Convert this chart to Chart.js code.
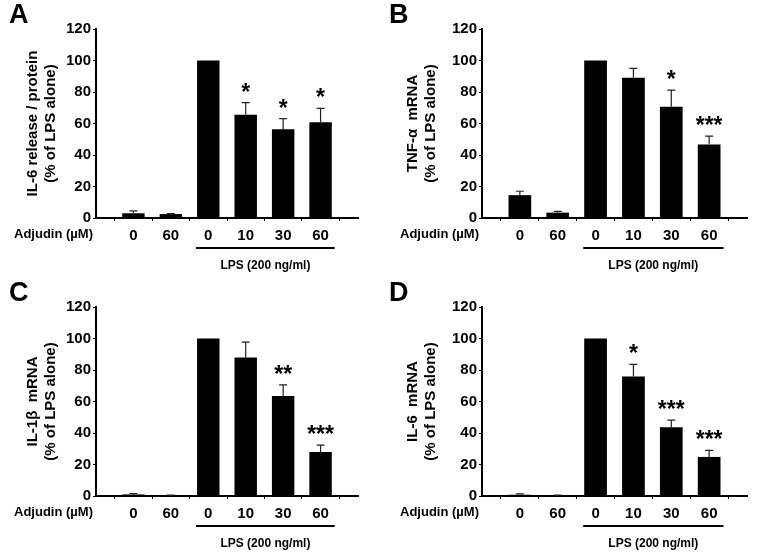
<!DOCTYPE html>
<html>
<head>
<meta charset="utf-8">
<script src="https://cdn.jsdelivr.net/npm/chart.js@4"></script>
<style>
  html, body { margin: 0; padding: 0; background: #fff; }
  #wrap { position: relative; width: 757px; height: 558px; }
  .panel { position: absolute; }
</style>
</head>
<body>
<div id="wrap">
  <div class="panel" style="left:0;top:0;width:378px;height:280px"><canvas id="chartA"></canvas></div>
  <div class="panel" style="left:380px;top:0;width:377px;height:280px"><canvas id="chartB"></canvas></div>
  <div class="panel" style="left:0;top:278px;width:378px;height:280px"><canvas id="chartC"></canvas></div>
  <div class="panel" style="left:380px;top:278px;width:377px;height:280px"><canvas id="chartD"></canvas></div>
</div>
<script>
// x categories (empty slots at both ends keep the gaps at the axis ends)
const doseLabels = ['', '0', '60', '0', '10', '30', '60', ''];
const yTicks = [0, 20, 40, 60, 80, 100, 120];

// A: IL-6 release / protein
const il6ReleaseMeans = [3, 2.5, 100, 65.6, 56.3, 60.8];
const il6ReleaseErrors = [1.5, 0.3, 0, 7.6, 6.8, 8.8];
const il6ReleaseStars = ['', '', '', '*', '*', '*'];

// B: TNF-a mRNA
const tnfMeans = [14.5, 3.4, 100, 89.1, 70.7, 46.7];
const tnfErrors = [2.5, 0.8, 0, 5.9, 10.5, 5.3];
const tnfStars = ['', '', '', '', '*', '***'];

// C: IL-1b mRNA
const il1bMeans = [1, 0.3, 100, 88, 63.5, 28];
const il1bErrors = [0.6, 0.2, 0, 9.7, 7, 4.3];
const il1bStars = ['', '', '', '', '**', '***'];

// D: IL-6 mRNA
const il6MrnaMeans = [0.8, 0.3, 100, 75.8, 43.6, 24.8];
const il6MrnaErrors = [0.5, 0.3, 0, 7.8, 4.6, 4.2];
const il6MrnaStars = ['', '', '', '*', '***', '***'];

const FONT = "'Liberation Sans', Arial, sans-serif";
Chart.defaults.font.family = FONT;
Chart.defaults.color = '#000';

// error bars, stars, panel letter and the LPS bracket
const panelDecor = {
    id: 'panelDecor',
    afterDatasetsDraw(chart, args, opts) {
        const ctx = chart.ctx;
        const meta = chart.getDatasetMeta(0);
        const yScale = chart.scales.y;
        const area = chart.chartArea;
        ctx.save();

        // error bars (upper only)
        ctx.strokeStyle = '#222';
        ctx.lineWidth = 1.2;
        opts.errors.forEach((e, i) => {
            const bar = meta.data[i + 1];
            if (!bar || !e) return;
            const v = opts.means[i];
            const yTop = yScale.getPixelForValue(v + e);
            ctx.beginPath();
            ctx.moveTo(bar.x, bar.y);
            ctx.lineTo(bar.x, yTop);
            ctx.moveTo(bar.x - 4, yTop);
            ctx.lineTo(bar.x + 4, yTop);
            ctx.stroke();
        });

        // significance stars
        ctx.fillStyle = '#000';
        ctx.font = 'bold 23px ' + FONT;
        ctx.textAlign = 'center';
        ctx.textBaseline = 'alphabetic';
        opts.stars.forEach((s, i) => {
            if (!s) return;
            const bar = meta.data[i + 1];
            const yTop = yScale.getPixelForValue(opts.means[i] + opts.errors[i]);
            ctx.fillText(s, bar.x, yTop - 3);
        });

        // panel letter
        ctx.font = 'bold 27px ' + FONT;
        ctx.textAlign = 'left';
        ctx.textBaseline = 'top';
        ctx.fillText(opts.letter, 9, 2);

        // "Adjudin (µM)" row label
        ctx.font = 'bold 13px ' + FONT;
        ctx.textAlign = 'right';
        ctx.textBaseline = 'middle';
        ctx.fillText('Adjudin (\u00b5M)', area.left - 3, area.bottom + 16);

        // LPS bracket
        const b3 = meta.data[3], b6 = meta.data[6];
        const x1 = b3.x - b3.width / 2 - 1;
        const x2 = b6.x + b6.width / 2 + 3;
        const yl = area.bottom + 30;
        ctx.lineWidth = 2;
        ctx.strokeStyle = '#000';
        ctx.beginPath();
        ctx.moveTo(x1, yl);
        ctx.lineTo(x2, yl);
        ctx.stroke();
        ctx.font = 'bold 12px ' + FONT;
        ctx.textAlign = 'center';
        ctx.fillText('LPS (200 ng/ml)', (x1 + x2) / 2, area.bottom + 48);

        ctx.restore();
    }
};

function makePanel(canvasId, letter, title, means, errors, stars, yAxisWidth, padRight) {
    const ctx = document.getElementById(canvasId).getContext('2d');
    return new Chart(ctx, {
        type: 'bar',
        data: {
            labels: doseLabels,
            datasets: [{
                data: [null, ...means, null],
                backgroundColor: '#000',
                borderWidth: 0,
                barPercentage: 0.6,
                categoryPercentage: 1
            }]
        },
        options: {
            responsive: true,
            maintainAspectRatio: false,
            animation: false,
            layout: { padding: { top: 29, right: padRight, left: 0, bottom: 0 } },
            plugins: {
                legend: { display: false },
                tooltip: { enabled: false },
                panelDecor: { letter, means, errors, stars }
            },
            scales: {
                x: {
                    offset: false,
                    grid: { drawOnChartArea: false, drawTicks: true, tickLength: 3, color: '#000' },
                    border: { color: '#000', width: 2 },
                    ticks: {
                        autoSkip: false, maxRotation: 0, padding: 6,
                        font: { size: 15, weight: 'bold' }
                    },
                    afterFit: s => { s.height = 62; }
                },
                y: {
                    min: 0,
                    max: 120,
                    afterBuildTicks: s => { s.ticks = yTicks.map(v => ({ value: v })); },
                    grid: { drawOnChartArea: false, drawTicks: true, tickLength: 3, color: '#000' },
                    border: { color: '#000', width: 2 },
                    ticks: { padding: 2, font: { size: 15, weight: 'bold' } },
                    title: {
                        display: true,
                        text: title,
                        font: { size: 15, weight: 'bold' },
                        padding: { top: 24, bottom: 0 }
                    },
                    afterFit: s => { s.width = yAxisWidth; }
                }
            }
        },
        plugins: [panelDecor]
    });
}

makePanel('chartA', 'A', ['IL-6 release / protein', '(% of LPS alone)'],
    il6ReleaseMeans, il6ReleaseErrors, il6ReleaseStars, 96, 20);
makePanel('chartB', 'B', ['TNF-\u03b1  mRNA', '(% of LPS alone)'],
    tnfMeans, tnfErrors, tnfStars, 102, 10);
makePanel('chartC', 'C', ['IL-1\u03b2  mRNA', '(% of LPS alone)'],
    il1bMeans, il1bErrors, il1bStars, 96, 20);
makePanel('chartD', 'D', ['IL-6  mRNA', '(% of LPS alone)'],
    il6MrnaMeans, il6MrnaErrors, il6MrnaStars, 102, 10);
</script>
</body>
</html>
